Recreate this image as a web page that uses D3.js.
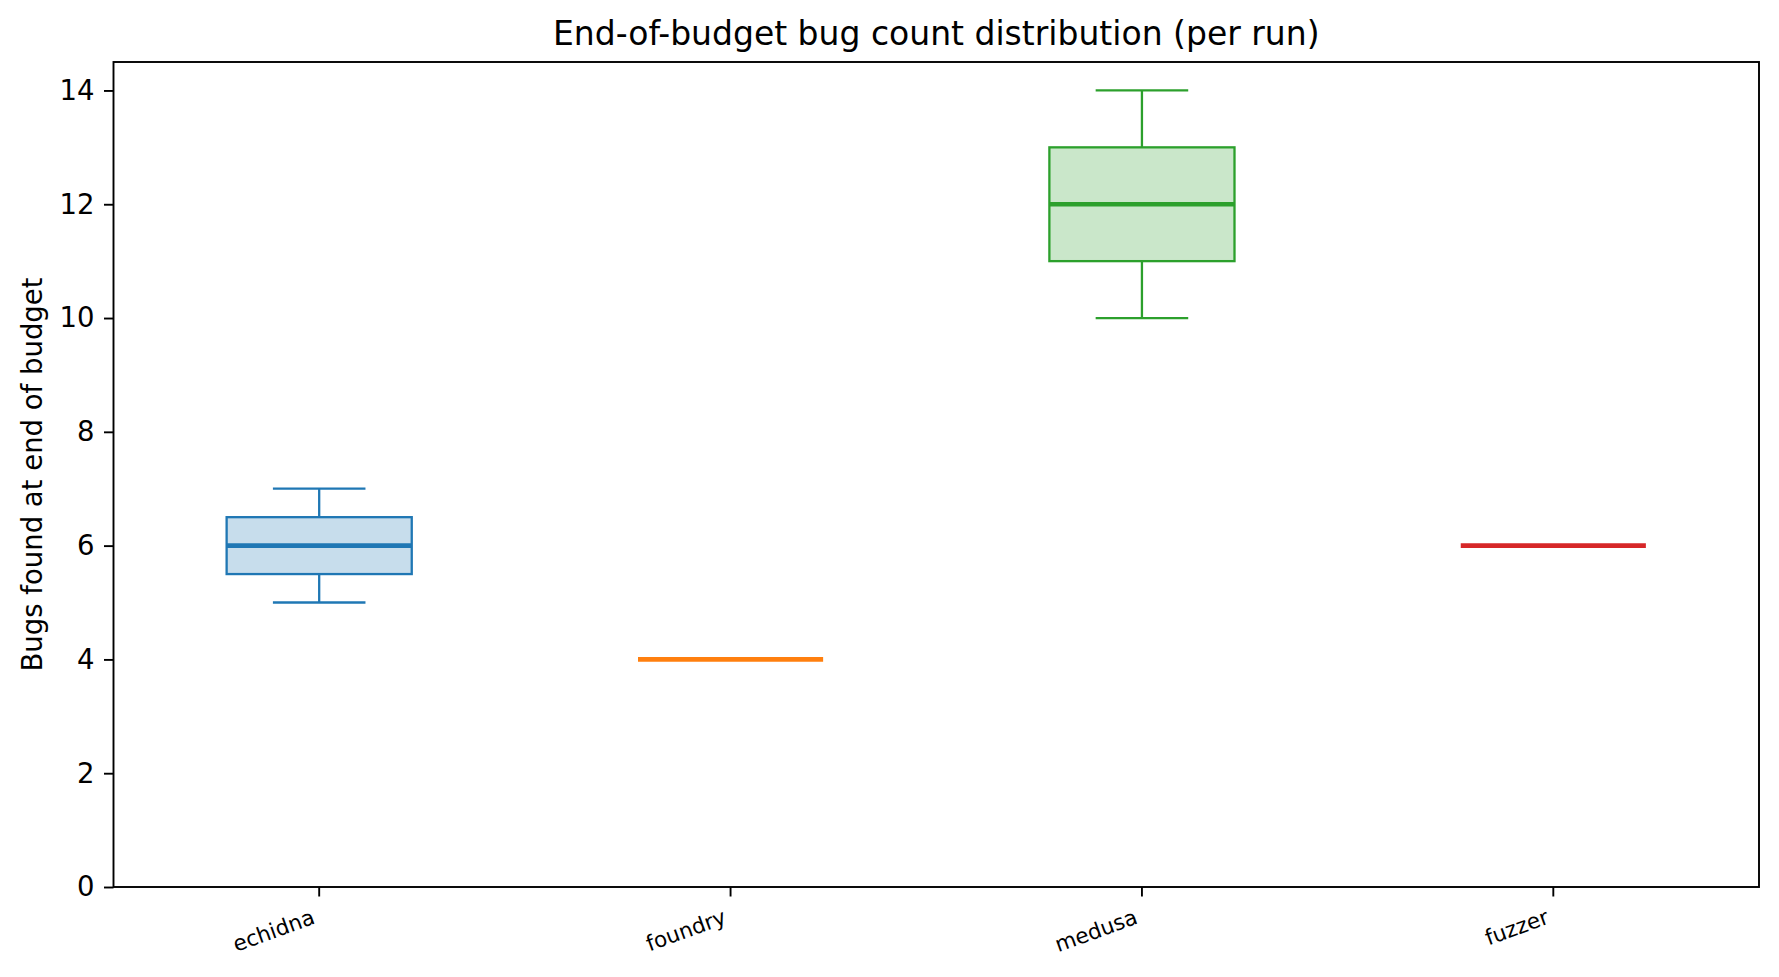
<!DOCTYPE html>
<html lang="en">
<head>
    <meta charset="UTF-8">
    <title>End-of-budget bug count distribution</title>
    <style>
        body { margin: 0; background: #fff; }
        text { font-family: "DejaVu Sans", sans-serif; fill: #000; }
    </style>
    <script type="text/javascript" src="https://d3js.org/d3.v7.min.js"></script>
</head>
<body>
    <script type="text/javascript">

       // box statistics per tool (bugs found at end of budget)
       var categories  = ["echidna", "foundry", "medusa", "fuzzer"];
       var whiskerLow  = [5,   4, 10, 6];
       var q1          = [5.5, 4, 11, 6];
       var median      = [6,   4, 12, 6];
       var q3          = [6.5, 4, 13, 6];
       var whiskerHigh = [7,   4, 14, 6];
       var colors      = ["#1f77b4", "#ff7f0e", "#2ca02c", "#d62728"];
       var yTicks      = [0, 2, 4, 6, 8, 10, 12, 14];

       var width = 1779, height = 977;
       // plot area edges (note: "top" is reserved on window, so prefixed names)
       var plotLeft = 113.5, plotRight = 1759, plotTop = 62, plotBottom = 887;

       var svg = d3.select("body")
                   .append("svg")
                   .attr("width", width)
                   .attr("height", height);

       var xScale = d3.scaleBand()
                      .domain(categories)
                      .range([plotLeft, plotRight])
                      .paddingInner(0)
                      .paddingOuter(0);
       var yScale = d3.scaleLinear()
                      .domain([0, 14.5])
                      .range([plotBottom, plotTop]);

       var bw = xScale.bandwidth();
       var boxW = bw * 0.45;
       var capW = boxW * 0.5;

       // y axis
       var yAxis = d3.axisLeft(yScale).tickValues(yTicks).tickSize(9.5).tickPadding(9.5);
       var yAxisGroup = svg.append("g")
                           .attr("transform", "translate(" + plotLeft + ",0)")
                           .call(yAxis);
       yAxisGroup.select(".domain").remove();
       yAxisGroup.selectAll("line").attr("stroke-width", 1.9);
       yAxisGroup.selectAll("text")
                 .style("font-size", "27.5px")
                 .style("font-family", "DejaVu Sans");

       // x axis
       var xAxis = d3.axisBottom(xScale).tickSize(9.5).tickSizeOuter(0);
       var xAxisGroup = svg.append("g")
                           .attr("transform", "translate(0," + plotBottom + ")")
                           .call(xAxis);
       xAxisGroup.select(".domain").remove();
       xAxisGroup.selectAll("line").attr("stroke-width", 1.9);
       xAxisGroup.selectAll("text")
                 .attr("x", 0).attr("y", 0).attr("dy", null)
                 .attr("text-anchor", "end")
                 .attr("transform", "translate(-3,36) rotate(-20)")
                 .style("font-size", "21.5px")
                 .style("font-family", "DejaVu Sans");

       // boxes
       var boxes = categories.map(function(c, i) {
           return {name: c, lo: whiskerLow[i], q1: q1[i], med: median[i],
                   q3: q3[i], hi: whiskerHigh[i], color: colors[i]};
       });

       var g = svg.selectAll("g.box")
                  .data(boxes)
                  .enter()
                  .append("g")
                  .attr("class", "box")
                  .attr("transform", function(d) {
                      return "translate(" + (xScale(d.name) + bw / 2) + ",0)";
                  });

       // whiskers
       g.append("line")
        .attr("x1", 0).attr("x2", 0)
        .attr("y1", function(d) { return yScale(d.q3); })
        .attr("y2", function(d) { return yScale(d.hi); })
        .attr("stroke", function(d) { return d.color; })
        .attr("stroke-width", 2.3);
       g.append("line")
        .attr("x1", 0).attr("x2", 0)
        .attr("y1", function(d) { return yScale(d.q1); })
        .attr("y2", function(d) { return yScale(d.lo); })
        .attr("stroke", function(d) { return d.color; })
        .attr("stroke-width", 2.3);
       // caps
       g.append("line")
        .attr("x1", -capW / 2).attr("x2", capW / 2)
        .attr("y1", function(d) { return yScale(d.hi); })
        .attr("y2", function(d) { return yScale(d.hi); })
        .attr("stroke", function(d) { return d.color; })
        .attr("stroke-width", 2.3);
       g.append("line")
        .attr("x1", -capW / 2).attr("x2", capW / 2)
        .attr("y1", function(d) { return yScale(d.lo); })
        .attr("y2", function(d) { return yScale(d.lo); })
        .attr("stroke", function(d) { return d.color; })
        .attr("stroke-width", 2.3);
       // box
       g.append("rect")
        .attr("x", -boxW / 2)
        .attr("width", boxW)
        .attr("y", function(d) { return yScale(d.q3); })
        .attr("height", function(d) { return yScale(d.q1) - yScale(d.q3); })
        .attr("fill", function(d) { return d.color; })
        .attr("fill-opacity", 0.25)
        .attr("stroke", function(d) { return d.color; })
        .attr("stroke-width", 2.3);
       // median
       g.append("line")
        .attr("x1", -boxW / 2).attr("x2", boxW / 2)
        .attr("y1", function(d) { return yScale(d.med); })
        .attr("y2", function(d) { return yScale(d.med); })
        .attr("stroke", function(d) { return d.color; })
        .attr("stroke-width", 4.7);

       // frame
       svg.append("rect")
          .attr("x", plotLeft).attr("y", plotTop)
          .attr("width", plotRight - plotLeft).attr("height", plotBottom - plotTop)
          .attr("fill", "none")
          .attr("stroke", "#000")
          .attr("stroke-width", 1.9);

       // title + y label
       svg.append("text")
          .attr("x", (plotLeft + plotRight) / 2)
          .attr("y", 45)
          .attr("text-anchor", "middle")
          .style("font-size", "33px")
          .text("End-of-budget bug count distribution (per run)");

       svg.append("text")
          .attr("transform", "translate(42," + (plotTop + plotBottom) / 2 + ") rotate(-90)")
          .attr("text-anchor", "middle")
          .style("font-size", "27.5px")
          .text("Bugs found at end of budget");

    </script>
</body>
</html>
